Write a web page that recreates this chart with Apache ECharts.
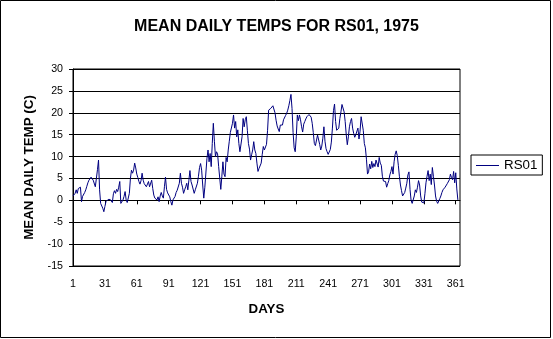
<!DOCTYPE html>
<html>
<head>
<meta charset="utf-8">
<script src="https://cdn.jsdelivr.net/npm/echarts@6/dist/echarts.min.js"></script>
<style>
html,body{margin:0;padding:0;background:#fff;}
#chart{width:553px;height:339px;}
</style>
</head>
<body>
<div id="chart"></div>
<script>
var titleText = "MEAN DAILY TEMPS FOR RS01, 1975";
var seriesName = "RS01";
var xAxisTitle = "DAYS";
var yAxisTitle = "MEAN DAILY TEMP (C)";
var yTicks = [-15, -10, -5, 0, 5, 10, 15, 20, 25, 30];
var xTickLabels = [1, 31, 61, 91, 121, 151, 181, 211, 241, 271, 301, 331, 361];
var days = [];
for (var d = 1; d <= 365; d++) days.push(d);
var temps = [
 1.0, 0.8, 1.6, 2.4, 1.6, 2.7, 2.5, 3.0, -0.3, 0.9, 1.2, 1.8, 2.4, 3.2, 4.0, 4.6, 5.0, 5.3, 5.3, 4.6,
 4.3, 3.1, 5.0, 7.0, 9.2, 2.4, -0.7, -0.8, -1.8, -2.6, -1.4, -0.3, -0.1, 0.2, 0.1, 0.2, 0.0, -0.5, 1.5, 2.2,
 1.6, 2.5, 2.0, 3.0, 4.3, -0.7, -0.3, 0.1, 0.9, 2.0, 0.1, -0.5, -0.7, 1.6, 5.0, 6.9, 6.2, 6.9, 8.5, 7.4,
 6.0, 5.2, 4.3, 3.7, 4.5, 6.2, 4.6, 3.8, 3.9, 3.1, 3.3, 4.3, 3.1, 3.5, 4.6, 2.7, 1.2, 0.5, 0.8, 0.1,
 0.8, -0.3, 1.0, 1.8, 1.0, 0.5, 3.1, 5.3, 2.5, 1.7, 2.0, 0.8, -0.3, -1.1, 0.1, 0.5, 0.9, 1.8, 2.3, 2.7,
 3.9, 6.2, 3.9, 3.0, 1.6, 2.4, 3.1, 3.9, 2.4, 4.6, 6.8, 4.3, 3.5, 3.1, 1.6, 2.4, 2.0, 3.9, 5.5, 7.5,
 8.4, 6.9, 3.5, 0.5, 3.0, 2.6, 9.6, 11.5, 8.8, 10.7, 7.7, 13.0, 17.6, 13.5, 10.0, 11.1, 10.6, 7.7, 7.5, 2.5,
 5.5, 8.8, 6.0, 5.4, 9.8, 8.8, 11.5, 13.5, 15.5, 15.9, 17.6, 19.5, 16.5, 18.0, 14.5, 16.1, 13.0, 11.1, 10.7, 14.5,
 18.7, 16.8, 18.4, 19.1, 16.0, 13.0, 11.7, 9.2, 10.4, 11.5, 13.4, 11.5, 10.7, 8.5, 6.6, 7.3, 7.0, 8.5, 10.5, 12.3,
 11.5, 11.5, 12.8, 16.0, 20.6, 20.3, 21.0, 21.2, 21.6, 22.0, 20.0, 18.3, 17.0, 16.3, 15.7, 17.2, 17.5, 17.2, 18.4, 18.8,
 19.4, 19.9, 20.6, 21.6, 22.8, 24.2, 21.0, 15.5, 12.0, 11.1, 14.5, 19.5, 18.2, 19.5, 18.4, 16.8, 15.6, 17.4, 18.0, 18.6,
 19.1, 19.3, 19.6, 20.0, 19.0, 17.6, 15.5, 13.0, 12.5, 12.3, 14.9, 15.2, 12.8, 11.5, 12.4, 14.2, 16.8, 13.5, 11.8, 11.1,
 10.5, 10.7, 11.6, 13.3, 16.5, 20.5, 22.0, 18.0, 16.0, 15.7, 16.5, 18.7, 20.2, 21.9, 21.8, 20.2, 18.0, 15.0, 12.7, 14.5,
 16.8, 18.0, 18.7, 16.5, 15.3, 14.4, 15.0, 14.6, 16.5, 14.0, 15.8, 19.1, 19.3, 16.0, 13.0, 12.0, 9.4, 6.0, 6.5, 8.3,
 7.2, 8.9, 7.5, 8.4, 7.7, 9.2, 9.6, 7.6, 9.8, 8.5, 8.0, 5.5, 4.4, 4.8, 4.3, 3.0, 3.8, 4.5, 5.8, 6.6,
 7.7, 6.0, 8.8, 10.5, 11.3, 10.2, 8.0, 5.5, 3.5, 2.2, 1.0, 0.8, 1.8, 2.8, 3.9, 5.8, 6.5, 2.5, 0.0, -0.7,
 -0.3, 1.0, 2.4, 1.8, 3.0, 4.5, 3.5, 1.0, -0.4, -0.6, -0.6, 1.5, 4.0, 5.5, 6.8, 4.5, 6.0, 3.6, 7.5, 5.5,
 3.5, 1.0, -0.2, -0.7, -0.3, 0.4, 1.0, 1.8, 2.4, 2.7, 3.0, 3.3, 3.8, 4.2, 4.7, 6.0, 5.2, 4.7, 6.6, 4.0,
 6.3, 2.6, 0.1, null, null
];

var FONT = "'Liberation Sans', Arial, sans-serif";
var chart = echarts.init(document.getElementById('chart'), null, {renderer: 'canvas'});
function isTick(idx) { return xTickLabels.indexOf(days[idx]) >= 0; }
chart.setOption({
  animation: false,
  backgroundColor: '#ffffff',
  title: {
    text: titleText,
    left: 'center',
    top: 14,
    textStyle: {fontFamily: FONT, fontSize: 16, fontWeight: 'bold', color: '#000'}
  },
  legend: {
    data: [seriesName],
    left: 471,
    top: 155,
    orient: 'vertical',
    padding: [4, 5, 3, 5],
    icon: 'rect',
    itemWidth: 23,
    itemHeight: 1,
    borderColor: '#000',
    borderWidth: 1,
    textStyle: {fontFamily: FONT, fontSize: 13.33, color: '#000'}
  },
  grid: {
    left: 73, right: 93, top: 69, bottom: 73,
    show: true, borderColor: '#000', borderWidth: 1, backgroundColor: 'transparent'
  },
  xAxis: {
    type: 'category',
    data: days,
    boundaryGap: false,
    name: xAxisTitle,
    nameLocation: 'middle',
    nameGap: 37,
    nameTextStyle: {fontFamily: FONT, fontSize: 13.33, fontWeight: 'bold', color: '#000'},
    axisLine: {lineStyle: {color: '#000', width: 1}},
    axisTick: {show: true, length: 4, interval: function (i) { return isTick(i); }, lineStyle: {color: '#000'}},
    axisLabel: {interval: function (i) { return isTick(i); }, margin: 13, fontFamily: FONT, fontSize: 10.67, color: '#000'},
    splitLine: {show: false}
  },
  yAxis: {
    type: 'value',
    min: yTicks[0],
    max: yTicks[yTicks.length - 1],
    interval: 5,
    name: yAxisTitle,
    nameLocation: 'middle',
    nameGap: 37,
    nameRotate: 90,
    nameTextStyle: {fontFamily: FONT, fontSize: 13.33, fontWeight: 'bold', color: '#000'},
    axisLine: {show: true, lineStyle: {color: '#000', width: 1}},
    axisTick: {show: true, length: 4, lineStyle: {color: '#000'}},
    axisLabel: {margin: 10, fontFamily: FONT, fontSize: 10.67, color: '#000'},
    splitLine: {show: true, lineStyle: {color: '#000', width: 1, type: 'solid'}}
  },
  graphic: [{
    type: 'rect',
    shape: {x: 0.5, y: 0.5, width: 550, height: 337},
    style: {fill: 'none', stroke: '#000', lineWidth: 1},
    silent: true
  }],
  series: [{
    name: seriesName,
    type: 'line',
    data: temps,
    symbol: 'none',
    connectNulls: false,
    lineStyle: {color: '#000080', width: 1},
    itemStyle: {color: '#000080'}
  }]
});
</script>
</body>
</html>
